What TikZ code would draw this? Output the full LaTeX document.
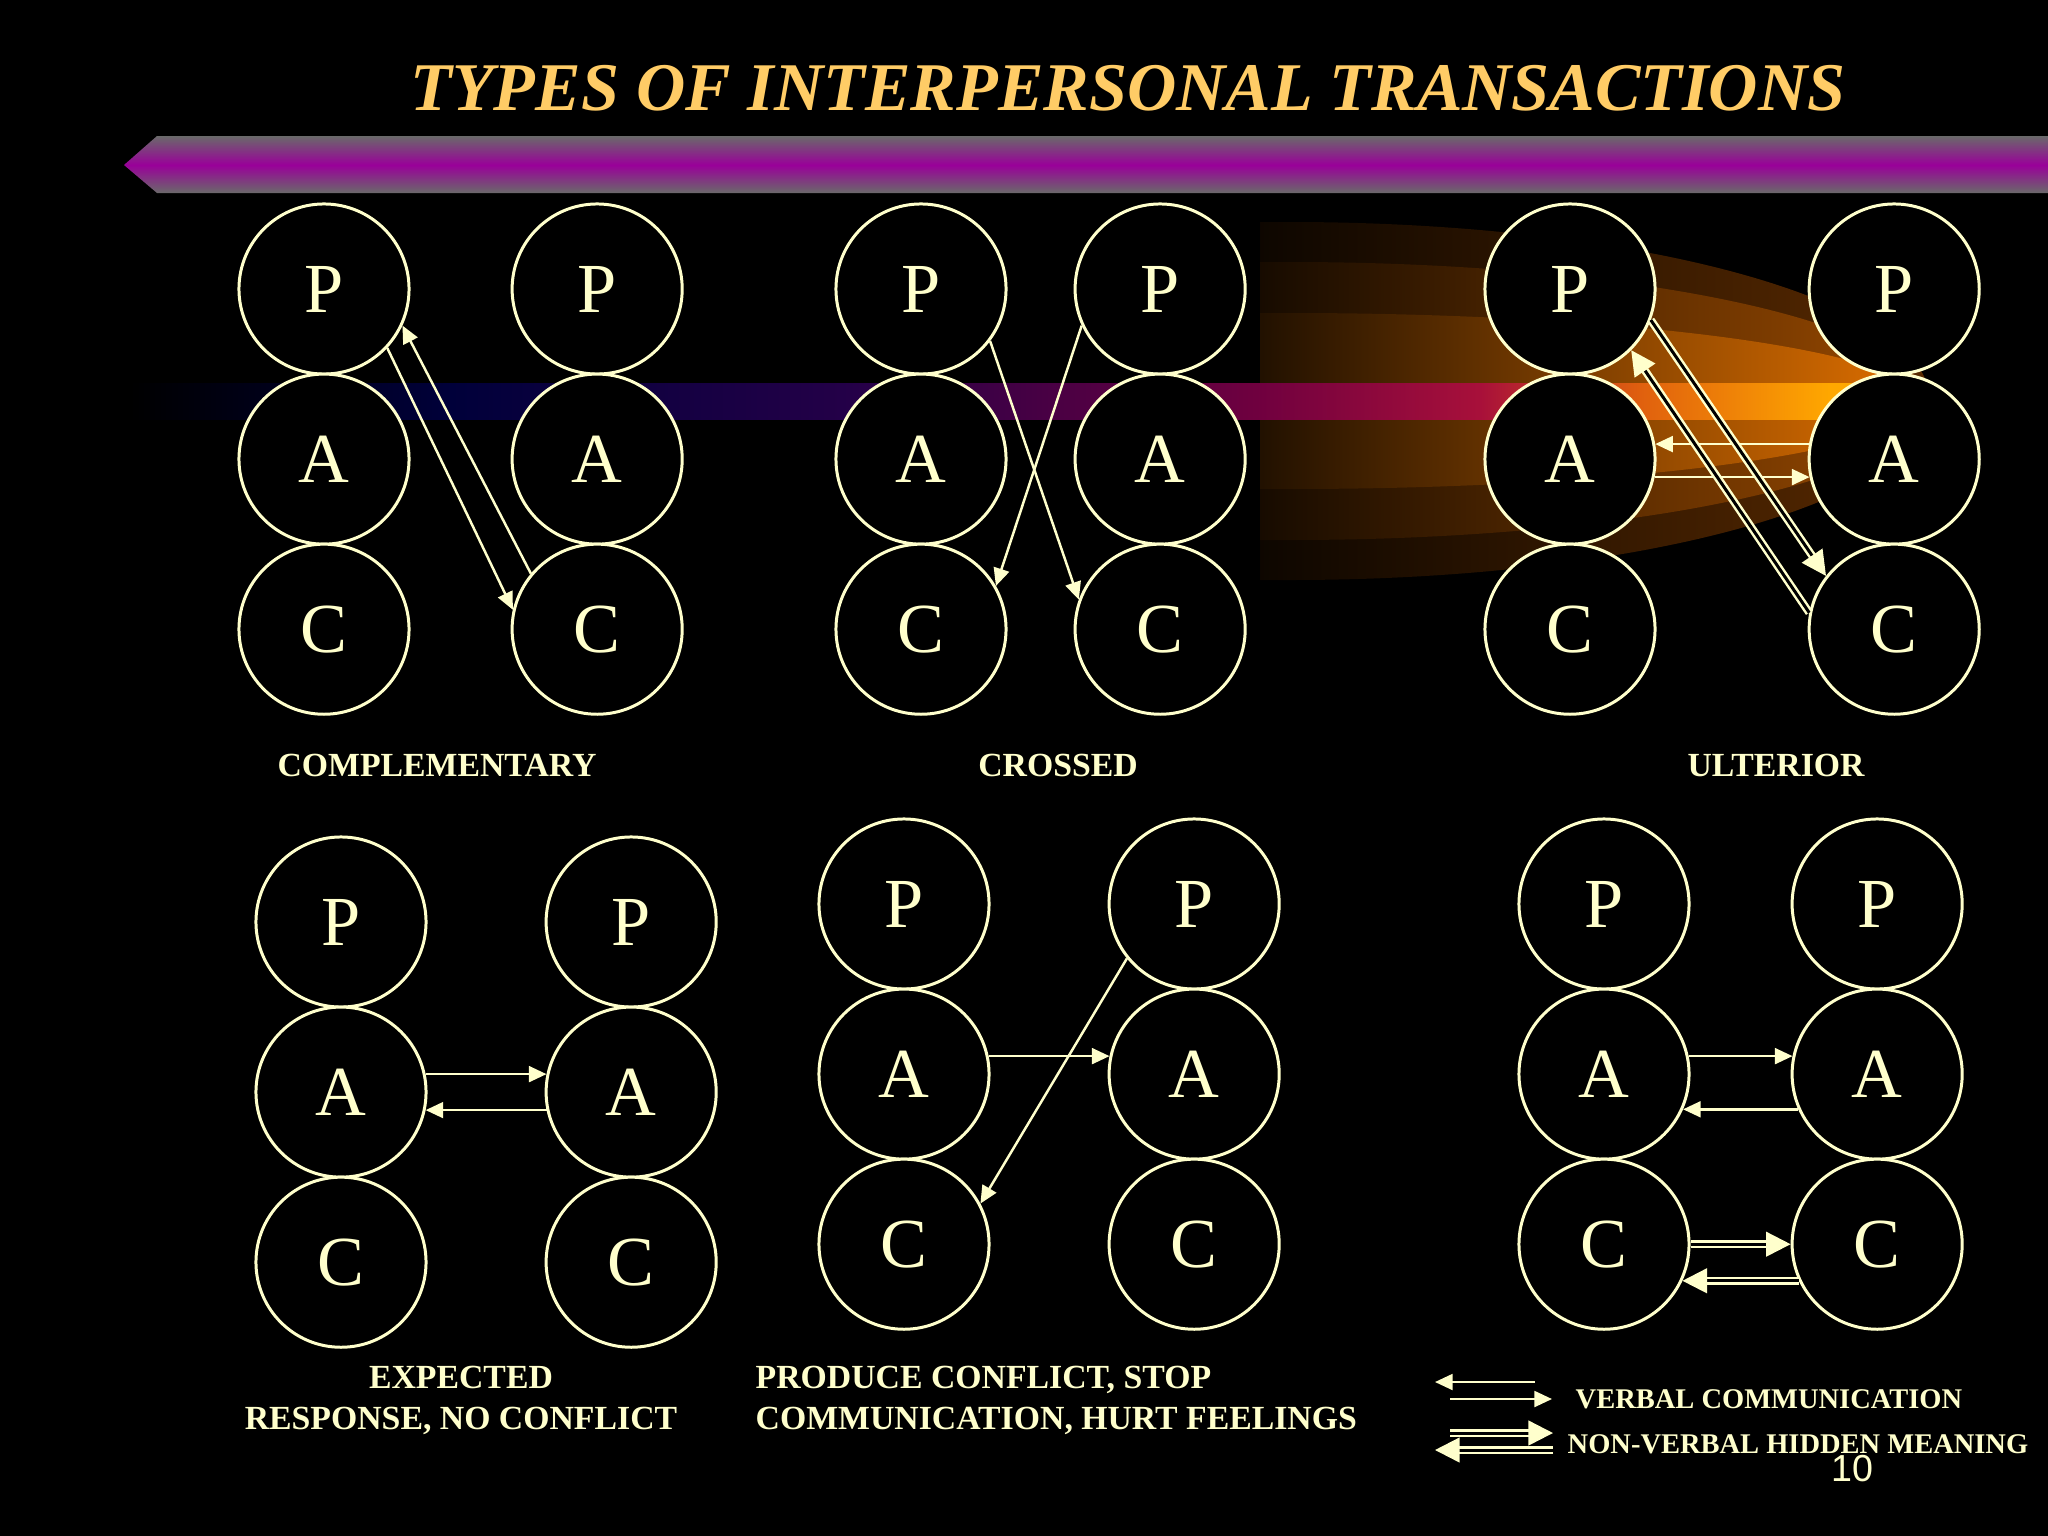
\documentclass[tikz,border=0pt]{standalone}
\usepackage{fontspec}
\setmainfont{Liberation Serif}
\newfontfamily\pagefont{Liberation Sans}
\usetikzlibrary{positioning}
\usetikzlibrary{arrows.meta}

\definecolor{cream}{HTML}{FFFFCC}
\definecolor{gold}{HTML}{FFCC66}
\definecolor{bargray}{HTML}{6A6A6A}
\definecolor{barpurple}{HTML}{990099}
\definecolor{glowa}{HTML}{5A2A00}
\definecolor{glowb}{HTML}{9A4A00}
\definecolor{glowc}{HTML}{E07000}
\definecolor{banda}{HTML}{00003A}
\definecolor{bandb}{HTML}{240048}
\definecolor{bandc}{HTML}{70003F}
\definecolor{bandd}{HTML}{A8103A}
\definecolor{bande}{HTML}{E0600E}
\definecolor{bandf}{HTML}{FFA800}

\tikzset{
    ego/.style = {circle, draw = cream, fill = black, line width = 0.85pt, minimum size = 1.7cm, inner sep = 0pt, text = cream, font = \fontsize{20}{24}\selectfont},
    verbal/.style = {draw = cream, line width = 0.7pt, -{Triangle[length = 5pt, width = 4.5pt]}},
    hidden/.style = {draw = cream, double = black, double distance = 0.85pt, line width = 0.7pt, -{Triangle[length = 7pt, width = 7pt]}},
    caption/.style = {text = cream, inner sep = 0pt, font = \fontsize{9.6}{11.7}\selectfont\bfseries},
    legend/.style = {text = cream, inner sep = 0pt, font = \fontsize{8.1}{10}\selectfont\bfseries},
}

\begin{document}
\begin{tikzpicture}[x = 0.01cm, y = -0.01cm, line join = round]

    \fill[black] (0,0) rectangle (2048,1536);
    \useasboundingbox (0,0) rectangle (2048,1536);

    % title bar
    \shade[top color = bargray, bottom color = barpurple] (124,165) -- (157,136) -- (2048,136) -- (2048,165) -- cycle;
    \shade[top color = barpurple, bottom color = bargray] (124,165) -- (2048,165) -- (2048,193) -- (157,193) -- cycle;

    \node (title) at (1128,88) [text = gold, font = \fontsize{19.4}{23}\selectfont\bfseries\itshape] {TYPES OF INTERPERSONAL TRANSACTIONS};

    % glow and band
    \shade[left color = glowa!15!black, right color = glowa] (1260,222) -- (1290,222) arc[start angle = -90, end angle = 90, x radius = 640, y radius = 179] -- (1260,580) -- cycle;
    \shade[left color = glowb!15!black, right color = glowb] (1260,262) -- (1290,262) arc[start angle = -90, end angle = 90, x radius = 635, y radius = 139] -- (1260,540) -- cycle;
    \shade[left color = glowc!15!black, right color = glowc] (1260,313) -- (1290,313) arc[start angle = -90, end angle = 90, x radius = 630, y radius = 88] -- (1260,489) -- cycle;

    \shade[left color = black, right color = banda] (130,383) rectangle (451,419);
    \shade[left color = banda, right color = bandb] (450,383) rectangle (851,419);
    \shade[left color = bandb, right color = bandc] (850,383) rectangle (1261,419);
    \shade[left color = bandc, right color = bandd] (1260,383) rectangle (1481,419);
    \shade[left color = bandd, right color = bande] (1480,383) rectangle (1641,419);
    \shade[left color = bande, right color = bandf] (1640,383) rectangle (1831,419);
    \fill[bandf] (1830,383) rectangle (1900,419);

    \begin{scope}[on grid]

        % complementary
        \node (PL1) at (324,289) [ego] {P};
        \node (AL1) [ego, below = 1.7cm of PL1] {A};
        \node (CL1) [ego, below = 1.7cm of AL1] {C};
        \node (PR1) [ego, right = 2.73cm of PL1] {P};
        \node (AR1) [ego, below = 1.7cm of PR1] {A};
        \node (CR1) [ego, below = 1.7cm of AR1] {C};

        \draw[verbal] (PL1.-43) -- (CR1.167);
        \draw[verbal] (CR1.140) -- (PL1.-25);

        % crossed
        \node (PL2) at (921,289) [ego] {P};
        \node (AL2) [ego, below = 1.7cm of PL2] {A};
        \node (CL2) [ego, below = 1.7cm of AL2] {C};
        \node (PR2) [ego, right = 2.39cm of PL2] {P};
        \node (AR2) [ego, below = 1.7cm of PR2] {A};
        \node (CR2) [ego, below = 1.7cm of AR2] {C};

        \draw[verbal] (PL2.-37) -- (CR2.160);
        \draw[verbal] (PR2.-155) -- (CL2.30);

        % ulterior
        \node (PL3) at (1570,289) [ego] {P};
        \node (AL3) [ego, below = 1.7cm of PL3] {A};
        \node (CL3) [ego, below = 1.7cm of AL3] {C};
        \node (PR3) [ego, right = 3.24cm of PL3] {P};
        \node (AR3) [ego, below = 1.7cm of PR3] {A};
        \node (CR3) [ego, below = 1.7cm of AR3] {C};

        \draw[verbal] (AR3.170) -- (AL3.10);
        \draw[verbal] (AL3.-12) -- (AR3.-168);
        \draw[hidden] (PL3.-21) -- (CR3.142);
        \draw[hidden] (CR3.169) -- (PL3.-45);

        % expected response
        \node (PL4) at (341,922) [ego] {P};
        \node (AL4) [ego, below = 1.7cm of PL4] {A};
        \node (CL4) [ego, below = 1.7cm of AL4] {C};
        \node (PR4) [ego, right = 2.9cm of PL4] {P};
        \node (AR4) [ego, below = 1.7cm of PR4] {A};
        \node (CR4) [ego, below = 1.7cm of AR4] {C};

        \draw[verbal] (AL4.12) -- (AR4.168);
        \draw[verbal] (AR4.-168) -- (AL4.-12);

        % conflict
        \node (PL5) at (904,904) [ego] {P};
        \node (AL5) [ego, below = 1.7cm of PL5] {A};
        \node (CL5) [ego, below = 1.7cm of AL5] {C};
        \node (PR5) [ego, right = 2.9cm of PL5] {P};
        \node (AR5) [ego, below = 1.7cm of PR5] {A};
        \node (CR5) [ego, below = 1.7cm of AR5] {C};

        \draw[verbal] (AL5.12) -- (AR5.168);
        \draw[verbal] (PR5.-141) -- (CL5.28);

        % hidden meaning
        \node (PL6) at (1604,904) [ego] {P};
        \node (AL6) [ego, below = 1.7cm of PL6] {A};
        \node (CL6) [ego, below = 1.7cm of AL6] {C};
        \node (PR6) [ego, right = 2.73cm of PL6] {P};
        \node (AR6) [ego, below = 1.7cm of PR6] {A};
        \node (CR6) [ego, below = 1.7cm of AR6] {C};

        \draw[verbal] (AL6.12) -- (AR6.168);
        \draw[verbal] (AR6.-156) -- (AL6.-24);
        \draw[hidden] (CL6.east) -- (CR6.west);
        \draw[hidden] (CR6.-155) -- (CL6.-25);

    \end{scope}

    % captions
    \node (capA) at (437,765) [caption] {COMPLEMENTARY};
    \node (capB) at (1058,765) [caption] {CROSSED};
    \node (capC) at (1776,765) [caption] {ULTERIOR};
    \node (capD) at (461,1400) [caption, align = center] {EXPECTED\\RESPONSE, NO CONFLICT};
    \node (capE) at (755,1400) [caption, anchor = west, align = left] {PRODUCE CONFLICT, STOP\\COMMUNICATION, HURT FEELINGS};

    % legend
    \coordinate (vL) at (1435,1382);
    \coordinate (vR) at (1535,1382);
    \coordinate (wL) at (1450,1399);
    \coordinate (wR) at (1552,1399);
    \coordinate (hL) at (1450,1433);
    \coordinate (hR) at (1553,1433);
    \coordinate (kL) at (1435,1450);
    \coordinate (kR) at (1553,1450);

    \draw[verbal] (vR) -- (vL);
    \draw[verbal] (wL) -- (wR);
    \draw[hidden] (hL) -- (hR);
    \draw[hidden] (kR) -- (kL);

    \node (legV) at (1575,1399) [legend, anchor = west] {VERBAL COMMUNICATION};
    \node (legH) at (1567,1444) [legend, anchor = west] {NON-VERBAL HIDDEN MEANING};

    \node (page) at (1852,1469) [text = cream, font = \pagefont\fontsize{10.7}{12}\selectfont] {10};

\end{tikzpicture}
\end{document}
